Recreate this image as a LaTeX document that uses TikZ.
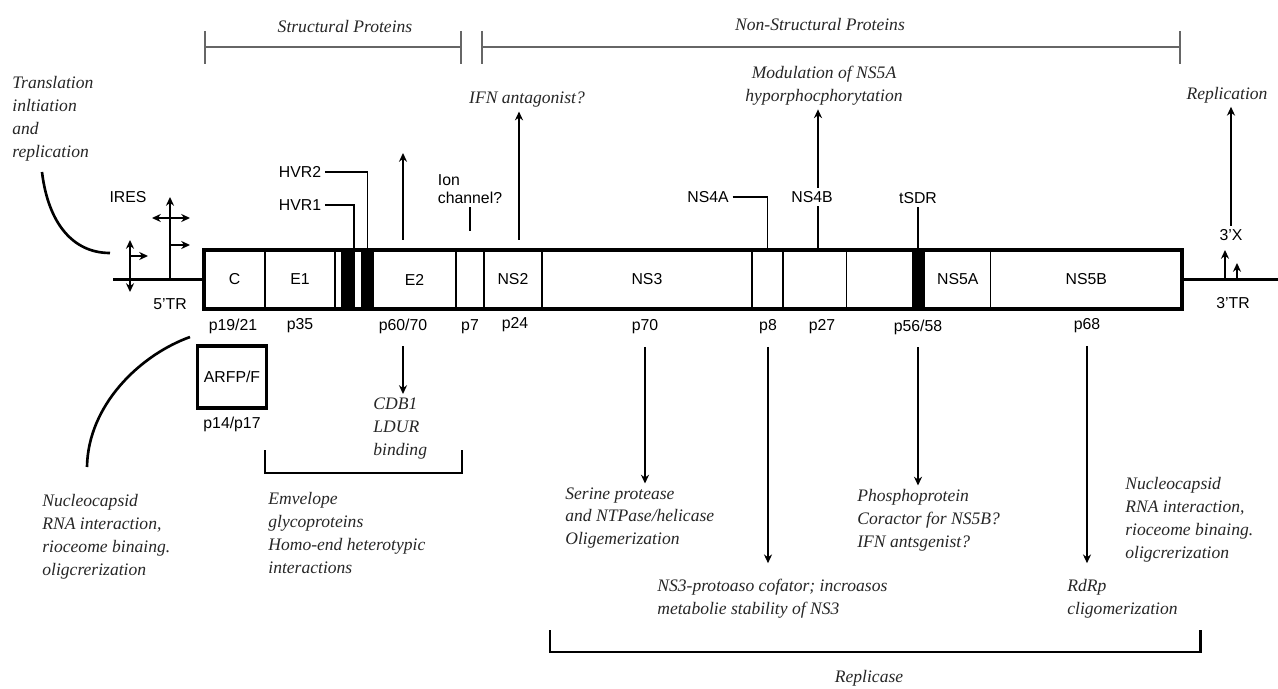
\documentclass[tikz,border=0pt]{standalone}
\usepackage{fontspec}
\setmainfont{Liberation Serif}
\setsansfont{Liberation Sans}
\usetikzlibrary{positioning, arrows.meta}

\tikzstyle{seg} = [rectangle, draw=black, line width=0.7pt, outer sep=0pt,
minimum height=1.18cm, inner sep=0pt, font=\sffamily\fontsize{9}{10}\selectfont]
\tikzstyle{hvbar} = [seg, fill=black]
\tikzstyle{lbl} = [font=\sffamily\fontsize{9}{10}\selectfont, inner sep=2pt]
\tikzstyle{remark} = [font=\itshape\fontsize{10}{13}\selectfont, text=black!85,
align=left, inner sep=2pt]
\tikzstyle{genome} = [line width=2.5pt]
\tikzstyle{pointer} = [line width=0.8pt]
\tikzstyle{rna} = [line width=1.5pt]
\tikzstyle{arrow} = [line width=1.5pt,->,>={Stealth[length=5pt,width=4.6pt]}]
\tikzstyle{effect} = [arrow, shorten <=5pt]
\tikzstyle{topspan} = [line width=0.9pt, black!60]
\tikzstyle{bracket} = [line width=1.7pt]

\begin{document}
\begin{tikzpicture}[x=0.02cm, y=-0.02cm]
  \useasboundingbox (0,0) rectangle (1278,689);

  % polyprotein
  \node (c) [seg, minimum width=1.22cm, anchor=west] at (204,279.5) {C};
  \node (e1) [seg, minimum width=1.40cm, right=0pt of c] {E1};
  \node (gap1) [seg, minimum width=0.14cm, right=0pt of e1] {};
  \node (bar1) [hvbar, minimum width=0.24cm, right=0pt of gap1] {};
  \node (gap2) [seg, minimum width=0.16cm, right=0pt of bar1] {};
  \node (bar2) [hvbar, minimum width=0.22cm, right=0pt of gap2] {};
  \node (e2) [seg, minimum width=1.66cm, right=0pt of bar2] {E2};
  \node (p7seg) [seg, minimum width=0.56cm, right=0pt of e2] {};
  \node (ns2) [seg, minimum width=1.16cm, right=0pt of p7seg] {NS2};
  \node (ns3) [seg, minimum width=4.20cm, right=0pt of ns2] {NS3};
  \node (ns4a) [seg, minimum width=0.62cm, right=0pt of ns3] {};
  \node (ns4b) [seg, minimum width=1.28cm, right=0pt of ns4a] {};
  \node (ns4x) [seg, minimum width=1.32cm, right=0pt of ns4b] {};
  \node (bar3) [hvbar, minimum width=0.24cm, right=0pt of ns4x] {};
  \node (ns5a) [seg, minimum width=1.32cm, right=0pt of bar3] {NS5A};
  \node (ns5b) [seg, minimum width=3.82cm, right=0pt of ns5a] {NS5B};
  \draw [genome] (c.north west) rectangle (ns5b.south east);

  % 5' end
  \coordinate (tr5) at (113,279.5);
  \draw [rna] (tr5) -- (c.west);
  \draw [arrow] (170,279.5) -- (170,197);
  \draw [arrow, <->] (152,218) -- (190,218);
  \draw [arrow] (170,245) -- (190,245);
  \draw [arrow, <->] (130,292) -- (130,240);
  \draw [arrow] (130,256) -- (148,256);
  \node (ires) [lbl] at (128,197) {IRES};
  \node (tr5lbl) [lbl] at (170,304) {5’TR};
  \node (transl) [remark, anchor=north west] at (8.5,72.5) {Translation\\inltiation\\and\\replication};
  \coordinate (translend) at (42,172);
  \coordinate (iresin) at (110,253);
  \draw [rna] (translend) .. controls (48,222) and (72,253) .. (iresin);

  % 3' end
  \coordinate (tr3) at (1278,279.5);
  \draw [rna] (ns5b.east) -- (tr3);
  \draw [arrow, line width=1.2pt] (1225,279.5) -- (1225,250);
  \draw [arrow, line width=1.2pt] (1237,279.5) -- (1237,263);
  \node (x3) [lbl] at (1231,235) {3’X};
  \node (tr3lbl) [lbl] at (1233,303) {3’TR};
  \node (repl) [remark] at (1227,95) {Replication};
  \draw [arrow] (x3.north) -- (x3.north |- repl.south);

  % protein groups
  \node (struct) [remark] at (345,27) {Structural Proteins};
  \node (nonstruct) [remark] at (820,25) {Non-Structural Proteins};
  \draw [topspan] (205,31) -- (205,64) (205,47) -- (461,47) (461,31) -- (461,64);
  \draw [topspan] (482,31) -- (482,64) (482,47) -- (1180,47) (1180,31) -- (1180,64);

  % labels above
  \node (hvr2) [lbl] at (300,172) {HVR2};
  \node (hvr1) [lbl] at (300,205) {HVR1};
  \draw [pointer] (hvr2.east) -| (bar2.north);
  \draw [pointer] (hvr1.east) -| (bar1.north east);
  \coordinate (e2base) at (403,240);
  \coordinate (e2tip) at (403,153);
  \draw [arrow] (e2base) -- (e2tip);
  \node (ion) [lbl, align=left] at (470,189) {Ion\\channel?};
  \coordinate (ionpt) at (470,231);
  \draw [pointer, line width=1pt] (ionpt |- ion.south) -- (ionpt);
  \node (ifn) [remark] at (527,100) {IFN antagonist?};
  \coordinate (ifnbase) at (519,240);
  \draw [arrow] (ifnbase) -- (ifnbase |- ifn.south);
  \node (ns4albl) [lbl] at (708,197) {NS4A};
  \draw [pointer] (ns4albl.east) -| (ns4a.north);
  \node (ns4blbl) [lbl] at (812,197) {NS4B};
  \node (modul) [remark, align=center] at (824,86) {Modulation of NS5A\\hyporphocphorytation};
  \coordinate (ns4bpt) at (818,250);
  \draw [pointer] (ns4bpt) -- (ns4bpt |- ns4blbl.south);
  \draw [arrow] (ns4bpt |- ns4blbl.north) -- (ns4bpt |- modul.south);
  \node (tsdr) [lbl] at (918,198) {tSDR};
  \draw [pointer] (tsdr.south) -- (tsdr.south |- bar3.north);

  % labels below
  \node (p1921) [lbl] at (233,326) {p19/21};
  \node (p35) [lbl] at (300,326) {p35};
  \node (p6070) [lbl] at (403,326) {p60/70};
  \node (p7) [lbl] at (470,327) {p7};
  \node (p24) [lbl] at (515,325) {p24};
  \node (p70) [lbl] at (645,327) {p70};
  \node (p8) [lbl] at (768,327) {p8};
  \node (p27) [lbl] at (822,327) {p27};
  \node (p5658) [lbl] at (918,327) {p56/58};
  \node (p68) [lbl] at (1087,326) {p68};

  \node (arfp) [draw, line width=2.2pt, minimum width=1.38cm, minimum height=1.24cm,
    font=\sffamily\fontsize{9}{10}\selectfont, inner sep=1pt] at (232,377) {ARFP/F};
  \node (p1417) [lbl, below=2pt of arfp] {p14/p17};

  \coordinate (corearc) at (190,337);
  \coordinate (corenote) at (87,467);
  \draw [rna] (corearc) .. controls (140,355) and (88,405) .. (corenote);
  \node (nucl) [remark, anchor=north west] at (38.5,490.5) {Nucleocapsid\\RNA interaction,\\rioceome binaing.\\oligcrerization};

  \node (cdb) [remark, anchor=north west] at (369.5,394) {CDB1\\LDUR\\binding};
  \draw [effect] (p6070.south) -- (p6070.south |- cdb.north);
  \draw [bracket] (265,450) -- (265,473) -- (462,473) -- (462,450);
  \node (envl) [remark, anchor=north west] at (264.5,488.5) {Emvelope\\glycoproteins\\Homo-end heterotypic\\interactions};

  \node (serine) [remark, anchor=north west] at (561.5,483.5) {Serine protease\\and NTPase/helicase\\Oligemerization};
  \draw [effect] (p70.south) -- (p70.south |- serine.north);
  \node (ns3txt) [remark, anchor=north west] at (653.5,575.5) {NS3-protoaso cofator; incroasos\\metabolie stability of NS3};
  \draw [effect, shorten >=7pt] (p8.south) -- (p8.south |- ns3txt.north);
  \node (phospho) [remark, anchor=north west] at (853.5,485.5) {Phosphoprotein\\Coractor for NS5B?\\IFN antsgenist?};
  \draw [effect] (p5658.south) -- (p5658.south |- phospho.north);
  \node (rdrp) [remark, anchor=north west] at (1063.5,575.5) {RdRp\\cligomerization};
  \draw [effect, shorten >=7pt] (p68.south) -- (p68.south |- rdrp.north);
  \node (nucr) [remark, anchor=north west] at (1121.5,473.5) {Nucleocapsid\\RNA interaction,\\rioceome binaing.\\oligcrerization};

  \draw [bracket] (550,630) -- (550,652) -- (1200,652) -- (1200,630);
  \node (replicase) [remark] at (869,678) {Replicase};

\end{tikzpicture}
\end{document}
